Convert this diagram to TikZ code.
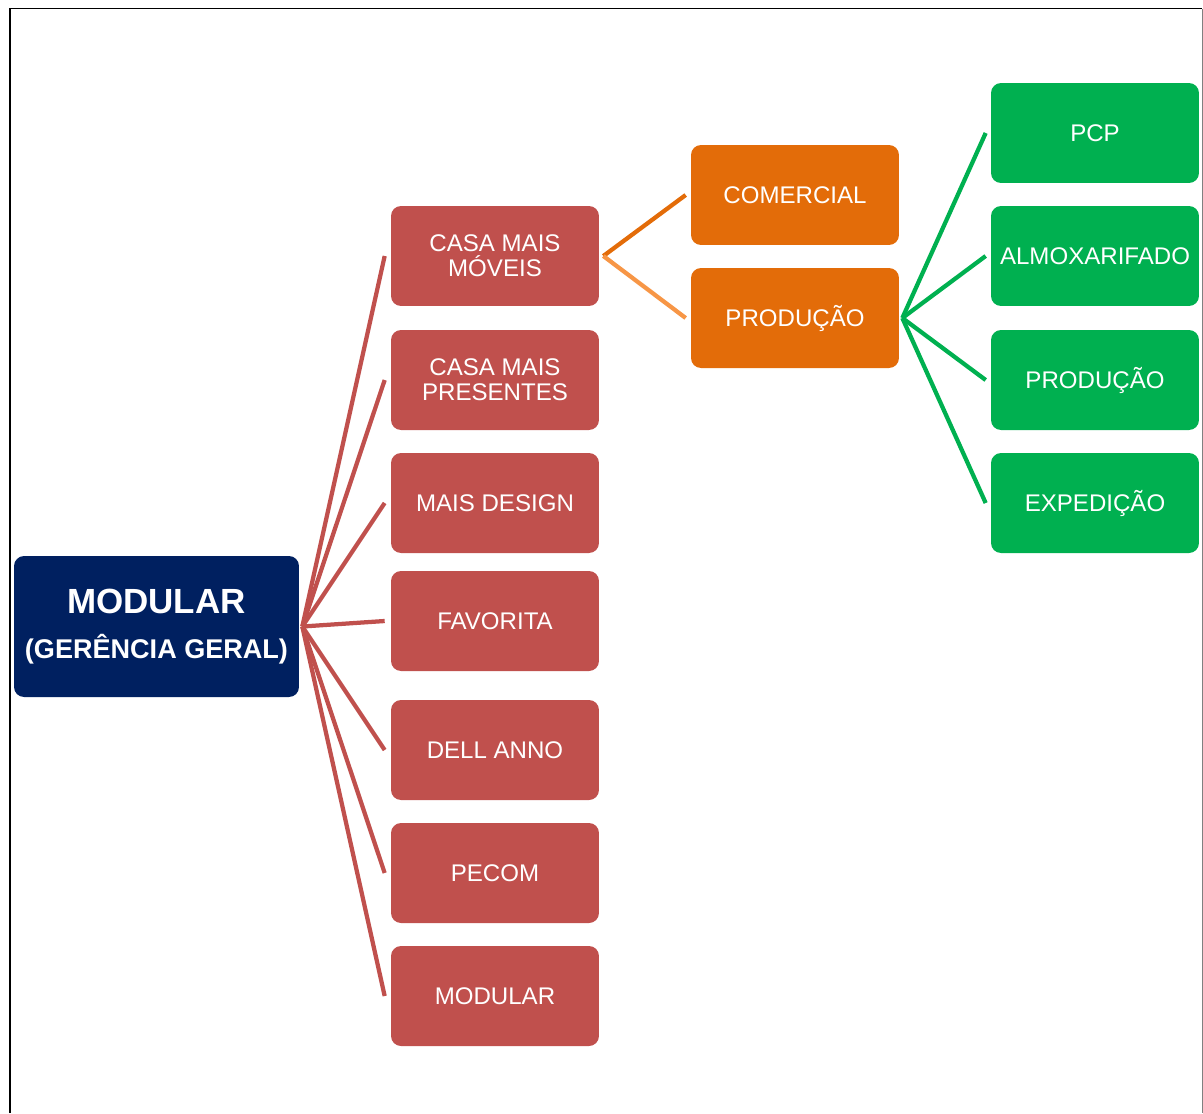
\documentclass[tikz,border=0pt]{standalone}
\usepackage{fontspec}
\setmainfont{Liberation Sans}
\usetikzlibrary{positioning}

\definecolor{navy}{RGB}{0,32,96}
\definecolor{tijolo}{RGB}{192,80,77}
\definecolor{laranja}{RGB}{227,108,9}
\definecolor{laranjaclaro}{RGB}{247,150,70}
\definecolor{verde}{RGB}{0,176,80}

\begin{document}
\begin{tikzpicture}[x=0.02cm,y=-0.02cm,
    caixa/.style={rectangle,rounded corners=0.2cm,text=white,align=center,
      minimum width=4.16cm,minimum height=2cm,inner sep=0pt,
      font=\fontsize{13.7}{14.2}\selectfont},
    ramo/.style={line width=0.085cm}]

  \useasboundingbox (0,0) rectangle (1203,1113);

  % moldura
  \draw [line width=1.1pt] (10,1113) -- (10,8.5) -- (1202,8.5);
  \draw [gray,line width=0.5pt] (1202,8.5) -- (1202,1113);

  % raiz
  \node [caixa,fill=navy,minimum width=5.7cm,minimum height=2.82cm,
    font=\bfseries\fontsize{15.4}{26}\selectfont] (root) at (156.5,626.5)
    {{\fontsize{19.9}{26}\selectfont MODULAR}\\(GERÊNCIA GERAL)};

  % empresas
  \node [caixa,fill=tijolo] (moveis)    at (495,256) {CASA MAIS\\MÓVEIS};
  \node [caixa,fill=tijolo] (presentes) at (495,380) {CASA MAIS\\PRESENTES};
  \node [caixa,fill=tijolo] (design)    at (495,503) {MAIS DESIGN};
  \node [caixa,fill=tijolo] (favorita)  at (495,621) {FAVORITA};
  \node [caixa,fill=tijolo] (dell)      at (495,750) {DELL ANNO};
  \node [caixa,fill=tijolo] (pecom)     at (495,873) {PECOM};
  \node [caixa,fill=tijolo] (modular)   at (495,996) {MODULAR};

  % setores
  \node [caixa,fill=laranja] (comercial) at (795,195) {COMERCIAL};
  \node [caixa,fill=laranja] (producao)  at (795,318) {PRODUÇÃO};

  % fabrica
  \node [caixa,fill=verde] (pcp)    at (1095,133) {PCP};
  \node [caixa,fill=verde] (almox)  at (1095,256) {ALMOXARIFADO};
  \node [caixa,fill=verde] (prod)   at (1095,380) {PRODUÇÃO};
  \node [caixa,fill=verde] (exped)  at (1095,503) {EXPEDIÇÃO};

  \path [draw,ramo,tijolo]
    ([xshift=0.06cm]root.east) edge ([xshift=-0.12cm]moveis.west)
    ([xshift=0.06cm]root.east) edge ([xshift=-0.12cm]presentes.west)
    ([xshift=0.06cm]root.east) edge ([xshift=-0.12cm]design.west)
    ([xshift=0.06cm]root.east) edge ([xshift=-0.12cm]favorita.west)
    ([xshift=0.06cm]root.east) edge ([xshift=-0.12cm]dell.west)
    ([xshift=0.06cm]root.east) edge ([xshift=-0.12cm]pecom.west)
    ([xshift=0.06cm]root.east) edge ([xshift=-0.12cm]modular.west);

  \draw [ramo,laranja] ([xshift=0.08cm]moveis.east) -- ([xshift=-0.1cm]comercial.west);
  \draw [ramo,laranjaclaro] ([xshift=0.08cm]moveis.east) -- ([xshift=-0.1cm]producao.west);

  \path [draw,ramo,verde]
    ([xshift=0.06cm]producao.east) edge ([xshift=-0.1cm]pcp.west)
    ([xshift=0.06cm]producao.east) edge ([xshift=-0.1cm]almox.west)
    ([xshift=0.06cm]producao.east) edge ([xshift=-0.1cm]prod.west)
    ([xshift=0.06cm]producao.east) edge ([xshift=-0.1cm]exped.west);
\end{tikzpicture}
\end{document}
